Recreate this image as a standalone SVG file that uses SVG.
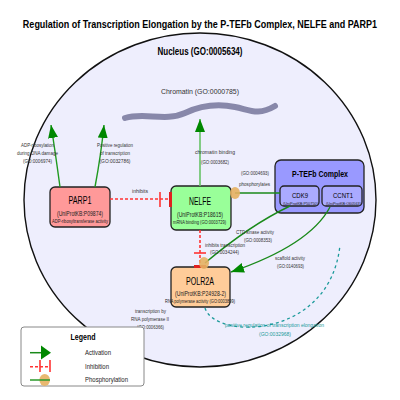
<svg xmlns="http://www.w3.org/2000/svg" width="400" height="400" viewBox="0 0 400 400">
<defs>
<style>
text{font-family:"Liberation Sans",Arial,sans-serif;text-anchor:middle;}
.t{font-size:9px;font-weight:bold;fill:#000;}
.h{font-size:10px;font-weight:bold;fill:#000;}
.lb{font-size:5.5px;fill:#333;}
.nm{font-size:10px;fill:#000;}
.up{font-size:7px;fill:#222;}
.go{font-size:5px;fill:#222;}
.node{stroke:#222;stroke-width:1.3;}
.act{fill:none;stroke:#1f9a1f;stroke-width:1.4;}
.inh{fill:none;stroke:#ff3333;stroke-width:1.6;stroke-dasharray:3,2;}
.bar{stroke:#ff3333;stroke-width:1.6;}
.tbar{stroke:#e02020;stroke-width:3;}
.phl{fill:none;stroke:#1a8a1a;stroke-width:1.4;}
.ph{fill:#e6b060;opacity:0.9;}
</style>
<marker id="arr" markerUnits="userSpaceOnUse" markerWidth="13" markerHeight="10" viewBox="0 0 13 10" refX="13" refY="5" orient="auto"><path d="M0,0 L13,5 L0,10 z" fill="#008800"/></marker>
</defs>
<rect width="400" height="400" fill="#fff"/>
<text class="t" x="200" y="28" transform="translate(0,28) scale(1,1.2) translate(0,-28)">Regulation of Transcription Elongation by the P-TEFb Complex, NELFE and PARP1</text>
<g id="nucleus">
<ellipse cx="200" cy="200" rx="176" ry="167" fill="#eeeefd" stroke="#111" stroke-width="1.4"/>
<text class="h" x="200" y="54.5" textLength="85" lengthAdjust="spacingAndGlyphs">Nucleus (GO:0005634)</text>
</g>
<g id="chromatin">
<path d="M125,118 C145,112 165,122 185,113 C200,106 215,103 235,107 C250,110 258,116 275,106" fill="none" stroke="#8888aa" stroke-width="6" stroke-linecap="round"/>
<text x="200" y="93.5" font-size="8" fill="#333" textLength="78" lengthAdjust="spacingAndGlyphs">Chromatin (GO:0000785)</text>
</g>
<g id="PARP1">
<rect class="node" x="50" y="187" width="60" height="40" rx="5" fill="#ff9999"/>
<text class="nm" x="80" y="203.5" textLength="23" lengthAdjust="spacingAndGlyphs">PARP1</text>
<text class="up" x="80" y="216" textLength="46" lengthAdjust="spacingAndGlyphs">(UniProtKB:P09874)</text>
<text class="go" x="80" y="223" textLength="56" lengthAdjust="spacingAndGlyphs">ADP-ribosyltransferase activity</text>
</g>
<g id="NELFE">
<rect class="node" x="171" y="186" width="60" height="44" rx="5" fill="#99ff99"/>
<text class="nm" x="200" y="205" font-size="10.5" textLength="22" lengthAdjust="spacingAndGlyphs">NELFE</text>
<text class="up" x="200" y="216.5" textLength="46" lengthAdjust="spacingAndGlyphs">(UniProtKB:P18615)</text>
<text class="go" x="199.5" y="224" textLength="53" lengthAdjust="spacingAndGlyphs">mRNA binding (GO:0003729)</text>
</g>
<g id="POLR2A">
<rect class="node" x="171" y="267" width="59" height="40" rx="5" fill="#ffcc99"/>
<text class="nm" x="200" y="285" font-size="10.5" textLength="28" lengthAdjust="spacingAndGlyphs">POLR2A</text>
<text class="up" x="200.5" y="296" textLength="51" lengthAdjust="spacingAndGlyphs">(UniProtKB:P24928-2)</text>
<text class="go" x="200" y="303" textLength="70" lengthAdjust="spacingAndGlyphs">RNA polymerase activity (GO:0003899)</text>
</g>
<g id="PTEFb">
<rect class="node" x="275" y="160" width="89" height="53" rx="6" fill="#9999ff"/>
<text x="320" y="176.5" font-size="9.5" font-weight="bold" textLength="56" lengthAdjust="spacingAndGlyphs">P-TEFb Complex</text>
<g id="CDK9">
<rect class="node" x="280" y="186" width="39" height="20" rx="4" fill="#aaaaff" stroke-width="1"/>
<text x="300" y="198.3" font-size="7.5" textLength="16" lengthAdjust="spacingAndGlyphs">CDK9</text>
<text x="300.5" y="204.6" font-size="3.5" fill="#222" textLength="35" lengthAdjust="spacingAndGlyphs">(UniProtKB:P50750)</text>
</g>
<g id="CCNT1">
<rect class="node" x="322" y="186" width="40" height="20" rx="4" fill="#aaaaff" stroke-width="1"/>
<text x="343" y="198.3" font-size="7.5" textLength="20" lengthAdjust="spacingAndGlyphs">CCNT1</text>
<text x="343.5" y="204.6" font-size="3.5" fill="#222" textLength="35" lengthAdjust="spacingAndGlyphs">(UniProtKB:O60563)</text>
</g>
</g>
<g id="connectors">
<path class="act" d="M60,187 Q55,150 51,125" marker-end="url(#arr)"/>
<path class="act" d="M95,187 Q101,155 104,125" marker-end="url(#arr)"/>
<path d="M200,186 L200,119" fill="none" stroke="#66c266" stroke-width="1.6" marker-end="url(#arr)"/>
<path class="inh" d="M110,199 L171,199"/>
<line class="bar" x1="160" y1="192" x2="160" y2="207"/>
<line class="tbar" x1="170.5" y1="192" x2="170.5" y2="207"/>
<path class="inh" d="M200,230 L200,266"/>
<line class="bar" x1="194" y1="253" x2="206" y2="253"/>
<line class="tbar" x1="194" y1="266.5" x2="206" y2="266.5"/>
<path class="phl" d="M280,193 L235,193"/>
<ellipse class="ph" cx="235" cy="193" rx="5" ry="6"/>
<path class="phl" d="M290,206 Q250,225 205,263"/>
<ellipse class="ph" cx="204" cy="263" rx="5" ry="6"/>
<path class="phl" d="M330,207 Q310,245 231,272" marker-end="url(#arr)"/>
<path d="M205,308 C215,340 330,340 340,245" fill="none" stroke="#1a9a9a" stroke-width="1.3" stroke-dasharray="3,3"/>
</g>
<g id="labels">
<text class="lb" x="37.5" y="146.5" textLength="33" lengthAdjust="spacingAndGlyphs">ADP-ribosylation</text>
<text class="lb" x="37.5" y="154.5" textLength="41" lengthAdjust="spacingAndGlyphs">during DNA damage</text>
<text class="lb" x="37.5" y="163" textLength="29" lengthAdjust="spacingAndGlyphs">(GO:0006974)</text>
<text class="lb" x="115" y="146.5" textLength="36" lengthAdjust="spacingAndGlyphs">Positive regulation</text>
<text class="lb" x="115" y="154.5" textLength="30" lengthAdjust="spacingAndGlyphs">of transcription</text>
<text class="lb" x="115" y="163" textLength="31" lengthAdjust="spacingAndGlyphs">(GO:0032786)</text>
<text class="lb" x="140" y="193" textLength="16" lengthAdjust="spacingAndGlyphs">inhibits</text>
<text class="lb" x="215" y="154" textLength="40" lengthAdjust="spacingAndGlyphs">chromatin binding</text>
<text class="lb" x="215" y="163.5" textLength="28" lengthAdjust="spacingAndGlyphs">(GO:0003682)</text>
<text class="lb" x="255" y="175" textLength="28" lengthAdjust="spacingAndGlyphs">(GO:0004693)</text>
<text class="lb" x="254.5" y="186" textLength="31" lengthAdjust="spacingAndGlyphs">phosphorylates</text>
<text class="lb" x="255" y="234" textLength="38" lengthAdjust="spacingAndGlyphs">CTD kinase activity</text>
<text class="lb" x="258" y="241.5" textLength="28" lengthAdjust="spacingAndGlyphs">(GO:0008353)</text>
<text class="lb" x="225" y="246.5" textLength="40" lengthAdjust="spacingAndGlyphs">inhibits transcription</text>
<text class="lb" x="224.5" y="254" textLength="29" lengthAdjust="spacingAndGlyphs">(GO:0034244)</text>
<text class="lb" x="290" y="260" textLength="30" lengthAdjust="spacingAndGlyphs">scaffold activity</text>
<text class="lb" x="290.5" y="268" textLength="27" lengthAdjust="spacingAndGlyphs">(GO:0140693)</text>
<text class="lb" x="150.5" y="313" textLength="31" lengthAdjust="spacingAndGlyphs">transcription by</text>
<text class="lb" x="150" y="321" textLength="38" lengthAdjust="spacingAndGlyphs">RNA polymerase II</text>
<text class="lb" x="150.5" y="329" textLength="27" lengthAdjust="spacingAndGlyphs">(GO:0006366)</text>
<text class="lb" x="274.5" y="326.5" style="fill:#1a9a9a" textLength="99" lengthAdjust="spacingAndGlyphs">positive regulation of transcription elongation</text>
<text class="lb" x="275" y="336" style="fill:#1a9a9a" textLength="32" lengthAdjust="spacingAndGlyphs">(GO:0032968)</text>
</g>
<g id="legend">
<rect x="21" y="327" width="123" height="59" rx="3" fill="#fff" stroke="#888" stroke-width="1"/>
<text x="83" y="340" font-size="9" font-weight="bold" textLength="25" lengthAdjust="spacingAndGlyphs">Legend</text>
<line x1="30" y1="352.7" x2="42" y2="352.7" stroke="#1a8a1a" stroke-width="1.5"/>
<path d="M41,345.5 L51,352.7 L41,359.5 z" fill="#008800"/>
<text x="98" y="355" font-size="7" fill="#222" textLength="26" lengthAdjust="spacingAndGlyphs">Activation</text>
<line class="inh" x1="30" y1="366.7" x2="50" y2="366.7"/>
<line class="bar" x1="40" y1="360" x2="40" y2="372"/>
<line class="bar" x1="50" y1="360" x2="50" y2="372"/>
<text x="97" y="368.5" font-size="7" fill="#222" textLength="24" lengthAdjust="spacingAndGlyphs">Inhibition</text>
<ellipse class="ph" cx="44.7" cy="380" rx="5.3" ry="6"/>
<line x1="30" y1="380" x2="50" y2="380" stroke="#2a9a2a" stroke-width="1.5"/>
<text x="106.5" y="382" font-size="7" fill="#222" textLength="43" lengthAdjust="spacingAndGlyphs">Phosphorylation</text>
</g>
</svg>
